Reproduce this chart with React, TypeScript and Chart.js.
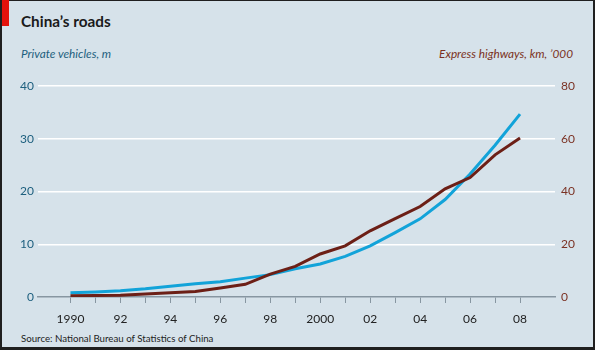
import React, { useEffect, useRef } from "react";
import { Chart, registerables } from "chart.js";

Chart.register(...registerables);

const years = [1990, 1991, 1992, 1993, 1994, 1995, 1996, 1997, 1998, 1999, 2000, 2001, 2002, 2003, 2004, 2005, 2006, 2007, 2008];
const privateVehicles = [0.82, 0.96, 1.18, 1.56, 2.05, 2.5, 2.9, 3.58, 4.24, 5.34, 6.25, 7.71, 9.69, 12.19, 14.82, 18.48, 23.33, 28.76, 34.67];
const expressHighways = [0.5, 0.57, 0.65, 1.1, 1.6, 2.1, 3.4, 4.8, 8.7, 11.6, 16.3, 19.4, 25.1, 29.7, 34.3, 41.0, 45.3, 53.9, 60.3];
const leftTicks = [0, 10, 20, 30, 40];
const rightTicks = [0, 20, 40, 60, 80];
const xLabels: Record<number, string> = {
  1990: "1990", 1992: "92", 1994: "94", 1996: "96", 1998: "98",
  2000: "2000", 2002: "02", 2004: "04", 2006: "06", 2008: "08",
};

const FONT = "Lato, 'Open Sans', sans-serif";
const BLUE = "#12a3d9";
const BROWN = "#6c1f16";
const TEAL_TEXT = "#1d5f7e";
const BROWN_TEXT = "#7b3224";
const BG = "#d6e2ea";

export default function App() {
  const ref = useRef<HTMLCanvasElement | null>(null);

  useEffect(() => {
    document.body.style.margin = "0";
    const canvas = ref.current;
    if (!canvas) return;
    const chart = new Chart(canvas, {
      type: "line",
      data: {
        datasets: [
          {
            label: "Express highways",
            data: years.map((y, i) => ({ x: y, y: expressHighways[i] })),
            yAxisID: "yR",
            borderColor: BROWN,
            borderWidth: 3,
            pointRadius: 0,
            tension: 0,
            borderCapStyle: "butt",
            order: 0,
          },
          {
            label: "Private vehicles",
            data: years.map((y, i) => ({ x: y, y: privateVehicles[i] })),
            yAxisID: "yL",
            borderColor: BLUE,
            borderWidth: 3,
            pointRadius: 0,
            tension: 0,
            borderCapStyle: "butt",
            order: 1,
          },
        ],
      },
      options: {
        responsive: false,
        animation: false,
        events: [],
        layout: { padding: { top: 86, left: 0, right: 0, bottom: 0 } },
        plugins: { legend: { display: false }, tooltip: { enabled: false }, title: { display: false } },
        scales: {
          x: {
            type: "linear",
            min: 1988.7,
            max: 2009.4,
            afterBuildTicks: (s: any) => {
              s.ticks = years.map((v) => ({ value: v }));
            },
            afterFit: (s: any) => {
              s.height = 53;
            },
            ticks: {
              autoSkip: false,
              maxRotation: 0,
              padding: 9,
              color: "#222",
              font: { family: FONT, size: 12 },
              callback: (v: any) => xLabels[v as number] ?? "",
            },
            grid: {
              display: true,
              drawOnChartArea: false,
              drawTicks: true,
              tickLength: 6,
              color: "#8796a1",
              lineWidth: 1,
            },
            border: { display: true, color: "#8796a1", width: 1.5 },
          },
          yL: {
            type: "linear",
            position: "left",
            min: 0,
            max: 40,
            afterBuildTicks: (s: any) => {
              s.ticks = leftTicks.map((v) => ({ value: v }));
            },
            afterFit: (s: any) => {
              s.width = 38;
            },
            ticks: {
              padding: 4,
              color: TEAL_TEXT,
              font: { family: FONT, size: 12 },
            },
            grid: {
              drawTicks: false,
              color: (c: any) => (c.tick && c.tick.value === 0 ? "rgba(0,0,0,0)" : "#ffffff"),
              lineWidth: 1.5,
            },
            border: { display: false },
          },
          yR: {
            type: "linear",
            position: "right",
            min: 0,
            max: 80,
            afterBuildTicks: (s: any) => {
              s.ticks = rightTicks.map((v) => ({ value: v }));
            },
            afterFit: (s: any) => {
              s.width = 40;
            },
            ticks: {
              padding: 6,
              color: BROWN_TEXT,
              font: { family: FONT, size: 12 },
            },
            grid: { display: false, drawTicks: false },
            border: { display: false },
          },
        },
      },
    } as any);
    return () => chart.destroy();
  }, []);

  return (
    <div style={{ position: "fixed", left: 0, top: 0, width: 595, height: 350, background: "#1f1f1f", overflow: "hidden", fontFamily: FONT }}>
      <div style={{ position: "absolute", left: 2, top: 1, width: 591, height: 346, background: BG }} />
      <div style={{ position: "absolute", left: 2, top: 0, width: 7, height: 26, background: "#e3120b" }} />
      <div style={{ position: "absolute", left: 21, top: 12, fontSize: 15.3, lineHeight: "18px", fontWeight: 700, color: "#1a1a1a", whiteSpace: "nowrap" }}>
        China’s roads
      </div>
      <div style={{ position: "absolute", left: 21, top: 46, fontSize: 11.8, lineHeight: "16px", fontStyle: "italic", color: TEAL_TEXT, whiteSpace: "nowrap" }}>
        Private vehicles, m
      </div>
      <div style={{ position: "absolute", right: 22, top: 46, fontSize: 11.8, lineHeight: "16px", fontStyle: "italic", color: BROWN_TEXT, whiteSpace: "nowrap", textAlign: "right" }}>
        Express highways, km, ’000
      </div>
      <div style={{ position: "absolute", left: 21, top: 332, fontSize: 9.7, lineHeight: "12px", color: "#222", whiteSpace: "nowrap" }}>
        Source: National Bureau of Statistics of China
      </div>
      <canvas ref={ref} width={595} height={350} style={{ position: "absolute", left: 0, top: 0, width: 595, height: 350 }} />
    </div>
  );
}
